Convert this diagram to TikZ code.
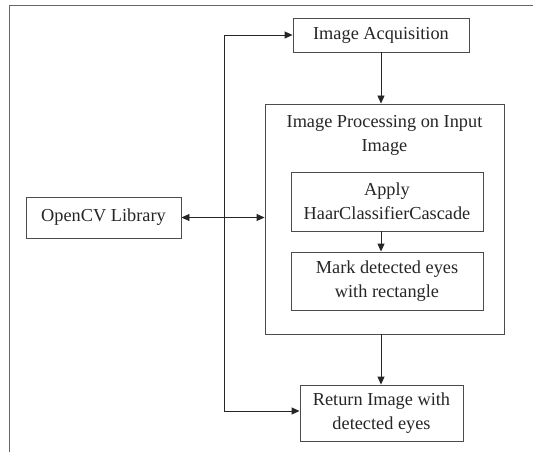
\documentclass[tikz,border=0pt]{standalone}
\usepackage{fontspec}
\setmainfont{Liberation Serif}
\usetikzlibrary{arrows.meta}
\begin{document}
\begin{tikzpicture}[x=1pt,y=-1pt,
  box/.style={draw=black!70, line width=0.9pt, rectangle, inner sep=0pt, align=center,
    font=\fontsize{18.3}{24}\selectfont, text=black!85},
  lbl/.style={inner sep=0pt, align=center, font=\fontsize{18.3}{24}\selectfont, text=black!85},
  arr/.style={draw=black!85, line width=0.9pt, -{Triangle[length=8pt,width=7pt]}},
  darr/.style={draw=black!85, line width=0.9pt, {Triangle[length=8pt,width=7pt]}-{Triangle[length=8pt,width=7pt]}},
  frame/.style={draw=black!60, line width=0.9pt}]
\useasboundingbox (0,0) rectangle (533,452);
\fill[white] (0,0) rectangle (533,452);
\coordinate (f0) at (9,5);
\coordinate (f1) at (533,5);
\coordinate (f2) at (9,452);
\draw[frame] (f1) -- (f0) -- (f2);

\node[box, minimum width=176pt, minimum height=34pt] (ia) at (381,35) {Image Acquisition};
\node[box, minimum width=239pt, minimum height=230pt] (proc) at (384.5,219) {};
\node[lbl] (ptitle) at (384.5,135) {Image Processing on Input\\Image};
\node[box, minimum width=192pt, minimum height=59pt] (apply) at (387,201.5) {Apply\\HaarClassifierCascade};
\node[box, minimum width=192pt, minimum height=58pt] (mark) at (387,281) {Mark detected eyes\\with rectangle};
\node[box, minimum width=163pt, minimum height=56pt] (ret) at (381.5,413) {Return Image with\\detected eyes};
\node[box, minimum width=155pt, minimum height=41pt] (cv) at (103.5,217.5) {OpenCV Library};

\coordinate (vx) at (224,0);
\draw[arr] (ia.south) -- (ia.south |- proc.north);
\draw[arr] (apply.south -| ia.south) -- (mark.north -| ia.south);
\draw[arr] (proc.south -| ia.south) -- (ret.north -| ia.south);
\draw[darr] (cv.east) -- (proc.west |- cv.east);
\draw[darr] (ia.west) -| ([yshift=2pt]vx |- ret.west) -- ([yshift=2pt]ret.west);
\end{tikzpicture}
\end{document}
